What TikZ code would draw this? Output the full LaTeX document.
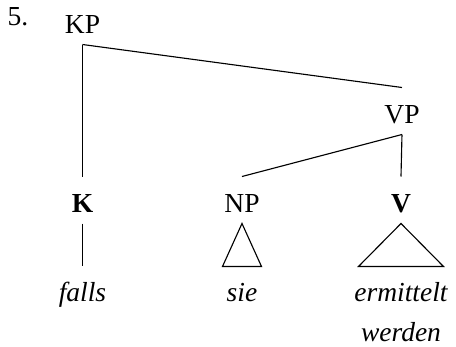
\documentclass[tikz,border=0pt]{standalone}
\usepackage{fontspec}
\setmainfont{Liberation Serif}
\usetikzlibrary{calc}

\begin{document}
\begin{tikzpicture}[x=0.4pt, y=-0.4pt,
    cat/.style={font=\fontsize{11}{13}\selectfont, anchor=base, inner sep=0pt,
                text height=14pt, text depth=4.4pt},
    leaf/.style={font=\fontsize{11}{16}\selectfont\itshape, anchor=base, inner sep=0pt,
                 text height=14pt},
    branch/.style={black, line width=0.45pt}]

\useasboundingbox (0,0) rectangle (456,347);

% --- example number ---
\node[font=\fontsize{11}{13}\selectfont, anchor=base] (exno) at (18,25) {5.};

% --- phrase nodes ---
\node[cat] (kp) at (82.5,33) {KP};
\node[cat] (vp) at (402,123) {VP};

% --- heads and arguments ---
\node[cat] (k)  at (82.5,212) {\textbf{K}};
\node[cat] (np) at (242,212)  {NP};
\node[cat] (v)  at (401,212)  {\textbf{V}};

% --- terminals ---
\node[leaf] (falls) at (82.5,302) {falls};
\node[leaf] (sie)   at (242,302)  {sie};
\node[leaf] (verb)  at (401,302)  {\begin{tabular}[t]{@{}c@{}}ermittelt\\werden\end{tabular}};

% --- branches ---
\draw[branch] (kp.south) -- (k.north);
\draw[branch] (kp.south) -- (vp.north);
\draw[branch] (vp.south) -- (np.north);
\draw[branch] (vp.south) -- (v.north);
\draw[branch] (k.south) -- (falls.north);

% Triangles for unanalysed material
\draw[branch] (np.south) -- ($(sie.north)+(-19.5,0)$) -- ($(sie.north)+(19.5,0)$) -- cycle;
\draw[branch] (v.south) -- ($(verb.north)+(-42.5,0)$) -- ($(verb.north)+(42.5,0)$) -- cycle;

\end{tikzpicture}
\end{document}
